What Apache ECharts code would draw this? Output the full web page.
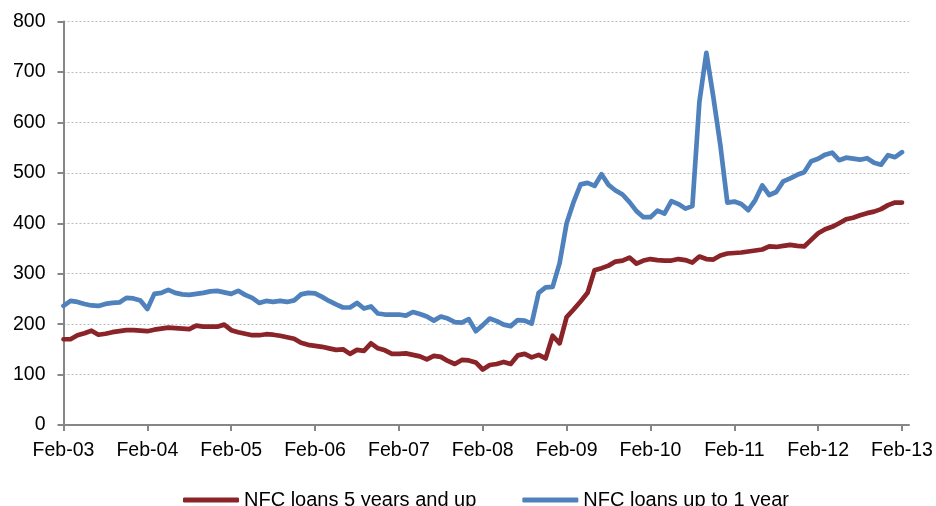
<!DOCTYPE html>
<html>
<head>
<meta charset="utf-8">
<script src="https://cdn.jsdelivr.net/npm/echarts@6/dist/echarts.min.js"></script>
<style>
html,body{margin:0;padding:0;background:#fff;}
#chart{width:936px;height:506px;}
</style>
</head>
<body>
<div id="chart"></div>
<script>
// Month labels Feb-03 .. Mar-13 (last slot is empty padding on the axis)
const monthNames = ['Jan','Feb','Mar','Apr','May','Jun','Jul','Aug','Sep','Oct','Nov','Dec'];
const categories = [];
for (let i = 0; i < 122; i++) {
  const m = (1 + i) % 12;
  const y = 3 + Math.floor((1 + i) / 12);
  categories.push(monthNames[m] + '-' + (y < 10 ? '0' + y : '' + y));
}

const seriesNames = ['NFC loans 5 years and up', 'NFC loans up to 1 year'];

const loans5yPlus = [
  170,170,178,182,187,179,181,184,186,188,188,187,
  186,189,191,193,192,191,190,197,195,195,195,199,
  188,184,181,178,178,180,179,177,174,171,163,159,
  157,155,152,149,150,141,149,147,162,152,148,141,
  141,142,139,136,130,137,135,127,121,129,128,124,
  110,119,121,125,121,138,141,134,139,132,177,162,
  214,229,245,262,307,311,316,324,326,332,320,326,
  329,327,326,326,329,327,322,334,329,328,336,340,
  341,342,344,346,348,354,353,355,357,355,354,367,
  380,388,393,400,408,411,416,420,423,428,436,441,
  441
];

const loansUpTo1y = [
  236,246,244,240,237,236,240,242,243,252,251,247,
  230,260,262,268,262,259,258,260,262,265,266,263,
  260,266,258,252,242,246,244,246,244,247,259,262,
  261,254,246,239,233,233,242,231,235,221,219,219,
  219,217,224,220,215,207,215,211,204,203,210,186,
  198,211,206,199,196,208,207,201,262,273,274,321,
  400,442,477,480,474,497,476,465,457,442,424,412,
  412,425,419,444,438,429,434,640,738,650,555,441,
  443,438,426,446,475,456,462,483,489,496,501,523,
  528,536,540,525,530,528,526,529,520,516,535,531,
  541
];

const yTicks = { min: 0, max: 800, interval: 100 };

const chart = echarts.init(document.getElementById('chart'), null, { renderer: 'canvas' });
const axisGray = '#868686';
const FONT = 'Liberation Sans, Arial, sans-serif';

chart.setOption({
  animation: false,
  backgroundColor: '#ffffff',
  grid: { left: 63.5, right: 27, top: 21.5, bottom: 81, containLabel: false },
  legend: {
    left: 178,
    top: 485,
    icon: 'roundRect',
    itemWidth: 56,
    itemHeight: 5,
    itemGap: 46,
    textStyle: { fontFamily: FONT, fontSize: 20, color: '#000' },
    data: seriesNames
  },
  xAxis: {
    type: 'category',
    data: categories,
    boundaryGap: false,
    axisLine: { show: true, lineStyle: { color: axisGray, width: 2 } },
    axisTick: {
      show: true, length: 6, inside: false,
      interval: function (idx) { return idx % 12 === 0; },
      lineStyle: { color: axisGray, width: 2 }
    },
    axisLabel: {
      interval: function (idx) { return idx % 12 === 0 && idx <= 120; },
      margin: 16,
      fontFamily: FONT, fontSize: 19.5, color: '#000',
      hideOverlap: false
    },
    splitLine: { show: false }
  },
  yAxis: {
    type: 'value',
    min: yTicks.min, max: yTicks.max, interval: yTicks.interval,
    axisLine: { show: true, lineStyle: { color: axisGray, width: 2 } },
    axisTick: { show: true, length: 6, lineStyle: { color: axisGray, width: 2 } },
    axisLabel: { margin: 18, fontFamily: FONT, fontSize: 19.5, color: '#000' },
    splitLine: { show: true, lineStyle: { color: '#bdbdbd', width: 1, type: [2, 2] } }
  },
  series: [
    {
      name: seriesNames[0],
      type: 'line',
      data: loans5yPlus,
      symbol: 'none',
      showSymbol: false,
      smooth: false,
      lineStyle: { color: '#8B2428', width: 4.7, join: 'round', cap: 'round' },
      itemStyle: { color: '#8B2428' },
      z: 3
    },
    {
      name: seriesNames[1],
      type: 'line',
      data: loansUpTo1y,
      symbol: 'none',
      showSymbol: false,
      smooth: false,
      lineStyle: { color: '#4F81BD', width: 4.7, join: 'round', cap: 'round' },
      itemStyle: { color: '#4F81BD' },
      z: 2
    }
  ]
});
</script>
</body>
</html>
